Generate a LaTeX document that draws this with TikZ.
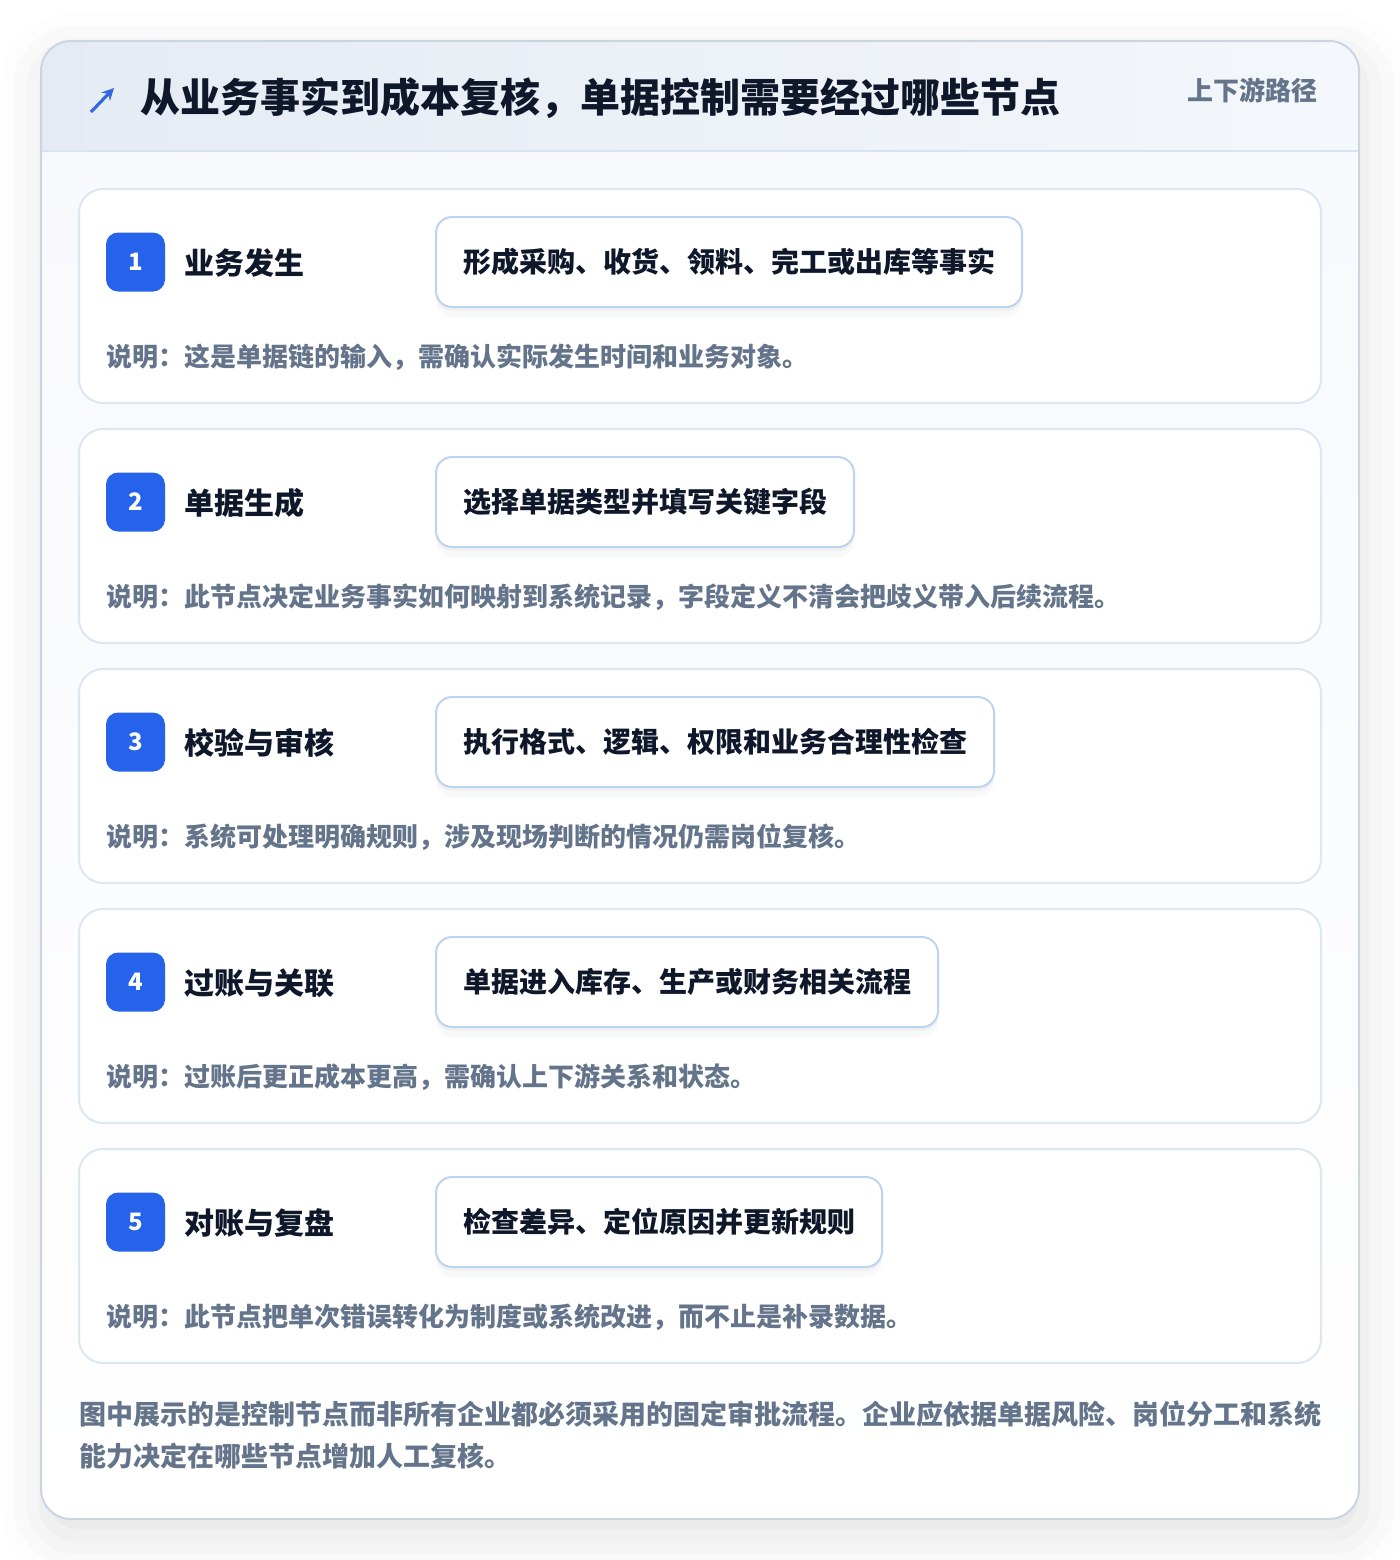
\documentclass[tikz,border=0pt]{standalone}
\usepackage{fontspec}
\setmainfont{Noto Sans CJK SC}
\usetikzlibrary{arrows.meta}
\usetikzlibrary{shadows}
\usetikzlibrary{shadows.blur}
\definecolor{inkdark}{HTML}{0F172A}
\definecolor{inkgray}{HTML}{64748B}
\definecolor{badgeblue}{HTML}{2563EB}
\definecolor{iconblue}{HTML}{3469E3}
\definecolor{cardline}{HTML}{DCE7F5}
\definecolor{boxline}{HTML}{BDD4F1}
\definecolor{frameline}{HTML}{CBD5E1}
\definecolor{headleft}{HTML}{E5EBF4}
\definecolor{headright}{HTML}{F4F7FB}
\definecolor{headrule}{HTML}{D5E3F4}
\definecolor{bodytop}{HTML}{F7F9FC}
\tikzset{
  frame/.style={draw=frameline, line width=1pt, rounded corners=15pt},
  stepbox/.style={draw=cardline, line width=1pt, fill=white, rounded corners=12pt},
  badge/.style={fill=badgeblue, rounded corners=6pt, minimum size=29.5pt, inner sep=0pt,
    text=white, font=\fontsize{12}{14}\selectfont\bfseries},
  steptitle/.style={inner sep=0pt, text=inkdark, font=\fontsize{15}{18}\selectfont\bfseries},
  actionbox/.style={draw=boxline, line width=1pt, fill=white, rounded corners=8pt,
    minimum height=45pt, inner xsep=13.5pt, inner ysep=0pt, text=inkdark,
    font=\fontsize{14}{17}\selectfont\bfseries,
    drop shadow={shadow xshift=0pt, shadow yshift=-2pt, opacity=0.035, fill=black},
    drop shadow={shadow xshift=0pt, shadow yshift=-5pt, opacity=0.025, fill=black}},
  stepnote/.style={inner sep=0pt, text=inkgray, font=\fontsize{13}{16}\selectfont\bfseries}
}
\newcommand{\stepcard}[5]{% #1 number, #2 top, #3 title, #4 action, #5 note
  \begin{scope}[shift={(0,#2)}]
    \draw[stepbox] (79,0) rectangle (1321,214);
    \node[badge] (badge#1) at (135.5,73) {#1};
    \node[steptitle, anchor=west] (title#1) at (184,74) {#3};
    \node[actionbox, anchor=west] (action#1) at (435,73) {#4};
    \node[stepnote, anchor=west] (note#1) at (106,168) {#5};
  \end{scope}
}

\begin{document}
\begin{tikzpicture}[x=0.5pt,y=-0.5pt]
  \useasboundingbox (0,0) rectangle (1400,1560);
  % outer card
  \fill[white, rounded corners=15pt,
    blur shadow={shadow xshift=2pt, shadow yshift=-8pt, shadow blur radius=22pt, shadow opacity=12}]
    (41,41) rectangle (1359,1519);
  \begin{scope}
    \clip[rounded corners=15pt] (41,41) rectangle (1359,1519);
    \shade[left color=headleft, right color=headright] (41,41) rectangle (1359,151);
    \shade[top color=bodytop, bottom color=white] (41,151) rectangle (1359,1519);
  \end{scope}
  \draw[headrule, line width=1pt] (41,151) -- (1359,151);
  \draw[frame] (41,41) rectangle (1359,1519);
  % header
  \coordinate (icontail) at (91,112);
  \coordinate (iconhead) at (114,88);
  \draw[iconblue, line width=1.6pt, -{Stealth[length=6pt,width=6pt]}] (icontail) -- (iconhead);
  \node[inner sep=0pt, anchor=west, text=inkdark, font=\fontsize{20}{24}\selectfont\bfseries]
    (heading) at (140,98) {从业务事实到成本复核，单据控制需要经过哪些节点};
  \node[inner sep=0pt, anchor=east, text=inkgray, font=\fontsize{13}{16}\selectfont\bfseries]
    (pathtag) at (1318,90) {上下游路径};
  % steps
  \stepcard{1}{189}{业务发生}{形成采购、收货、领料、完工或出库等事实}{说明：这是单据链的输入，需确认实际发生时间和业务对象。}
  \stepcard{2}{429}{单据生成}{选择单据类型并填写关键字段}{说明：此节点决定业务事实如何映射到系统记录，字段定义不清会把歧义带入后续流程。}
  \stepcard{3}{669}{校验与审核}{执行格式、逻辑、权限和业务合理性检查}{说明：系统可处理明确规则，涉及现场判断的情况仍需岗位复核。}
  \stepcard{4}{909}{过账与关联}{单据进入库存、生产或财务相关流程}{说明：过账后更正成本更高，需确认上下游关系和状态。}
  \stepcard{5}{1149}{对账与复盘}{检查差异、定位原因并更新规则}{说明：此节点把单次错误转化为制度或系统改进，而不止是补录数据。}
  % footer
  \node[inner sep=0pt, anchor=north west, align=left, text=inkgray,
    font=\fontsize{13.5}{21}\selectfont\bfseries] (footnote) at (79,1400)
    {图中展示的是控制节点而非所有企业都必须采用的固定审批流程。企业应依据单据风险、岗位分工和系统\\能力决定在哪些节点增加人工复核。};
\end{tikzpicture}
\end{document}
